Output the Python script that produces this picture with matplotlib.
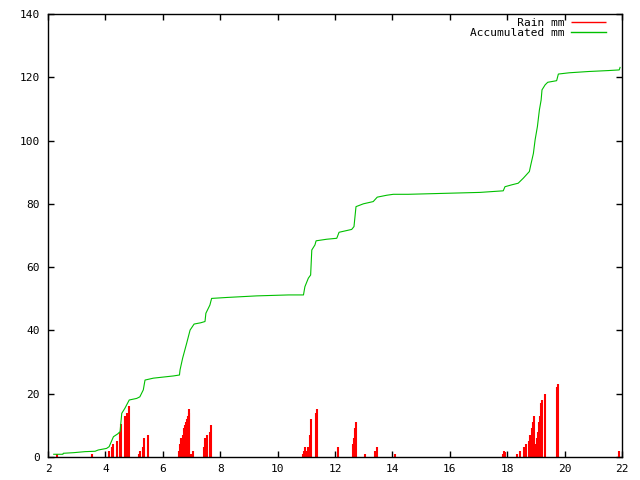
import numpy as np
import matplotlib
matplotlib.use('Agg')
import matplotlib.pyplot as plt

# rain (impulses)
rain_x = [2.32, 3.52, 4.14, 4.24, 4.28, 4.42, 4.50, 4.55, 4.67, 4.74, 4.83,
          5.18, 5.21, 5.32, 5.35, 5.49,
          6.58, 6.61, 6.64, 6.70, 6.74, 6.77, 6.81, 6.84, 6.87, 6.90, 6.92, 6.99, 7.06,
          7.44, 7.48, 7.53, 7.65, 7.69,
          10.90, 10.93, 10.96, 11.00, 11.07, 11.14, 11.17, 11.33, 11.36,
          12.11, 12.64, 12.67, 12.71, 12.74, 13.06, 13.40, 13.47, 14.10,
          17.86, 17.90, 17.93, 18.35, 18.45, 18.59, 18.66, 18.77, 18.80, 18.87,
          18.91, 18.94, 18.98, 19.01, 19.05, 19.08, 19.12, 19.15, 19.19, 19.22,
          19.33, 19.75, 19.78, 21.90]
rain_mm = [0.9, 0.9, 1.9, 3.3, 4.1, 5.1, 8.0, 10.4, 13.1, 14.0, 16.1,
           1.0, 1.9, 3.3, 6.1, 7.0,
           1.9, 4.1, 6.1, 7.0, 9.2, 10.0, 11.1, 12.0, 13.1, 13.8, 15.2, 1.0, 1.9,
           3.3, 6.1, 7.0, 8.0, 10.1,
           0.95, 1.9, 3.2, 1.9, 3.2, 7.0, 12.0, 13.9, 15.2,
           3.2, 4.1, 6.0, 9.2, 11.0, 1.0, 1.9, 3.2, 1.0,
           0.95, 1.9, 1.6, 1.0, 1.9, 3.2, 4.1, 5.1, 7.0, 9.2,
           11.1, 13.0, 1.9, 4.1, 6.0, 7.9, 11.1, 13.0, 17.0, 18.0,
           19.9, 22.1, 23.0, 1.9]

# accumulated rain
acc_x = [2.20, 2.33, 2.52, 2.53, 2.90, 3.29, 3.64, 3.75, 4.04, 4.13, 4.28, 4.43,
         4.51, 4.57, 4.68, 4.83, 5.09, 5.20, 5.32, 5.38, 5.67, 6.37, 6.58, 6.60,
         6.69, 6.83, 6.95, 7.09, 7.32, 7.47, 7.50, 7.64, 7.70, 8.23, 9.27, 10.38,
         10.90, 10.95, 11.07, 11.15, 11.19, 11.30, 11.34, 11.71, 12.06, 12.14,
         12.58, 12.66, 12.73, 12.99, 13.33, 13.47, 13.80, 14.03, 14.55, 17.05,
         17.86, 17.92, 18.16, 18.38, 18.56, 18.77, 18.82, 18.91, 18.97, 19.05,
         19.12, 19.18, 19.21, 19.32, 19.41, 19.72, 19.78, 20.16, 20.83, 21.52,
         21.90, 21.93]
acc_mm = [0.85, 0.85, 0.85, 1.16, 1.36, 1.68, 1.80, 2.20, 2.70, 3.25, 6.40, 7.30,
          8.00, 13.8, 15.4, 18.0, 18.5, 19.0, 21.2, 24.3, 24.9, 25.6, 25.9, 27.5,
          31.2, 35.9, 40.1, 42.0, 42.4, 42.8, 45.4, 48.0, 50.1, 50.4, 50.9, 51.2,
          51.2, 53.8, 56.5, 57.5, 65.4, 67.0, 68.3, 68.8, 69.1, 71.0,
          71.9, 72.8, 79.1, 80.0, 80.7, 82.1, 82.7, 83.0, 83.0, 83.6,
          84.1, 85.4, 86.0, 86.5, 88.1, 90.2, 92.3, 95.9, 100.2, 104.4,
          109.7, 112.8, 116.0, 117.6, 118.4, 118.9, 121.0, 121.4, 121.8, 122.1,
          122.3, 123.1]

plt.rcParams['font.family'] = ['DejaVu Sans Mono']
fig = plt.figure(figsize=(6.4, 4.8), dpi=100)
ax = fig.add_axes([0.075, 0.048, 0.897, 0.923])

ax.vlines(rain_x, 0, rain_mm, colors='#ff0000', linewidth=1.5, label='       Rain mm')
ax.plot(acc_x, acc_mm, color='#00c000', linewidth=0.8, label='Accumulated mm')

ax.set_xlim(2, 22)
ax.set_ylim(0, 140)
ax.set_xticks(np.arange(2, 23, 2))
ax.set_yticks(np.arange(0, 141, 20))
ax.tick_params(direction='in', top=True, right=True, length=4, width=1, labelsize=8)
ax.tick_params(axis='y', pad=6)
ax.tick_params(axis='x', pad=5)
for s in ax.spines.values():
    s.set_linewidth(1)

leg = ax.legend(loc='upper right', bbox_to_anchor=(0.985, 1.008), frameon=False,
                markerfirst=False, fontsize=8, handlelength=3.1, handletextpad=0.6,
                labelspacing=0.0, borderpad=0.2)
for h in leg.legend_handles:
    h.set_linewidth(1)

fig.savefig('out.png', dpi=100)
